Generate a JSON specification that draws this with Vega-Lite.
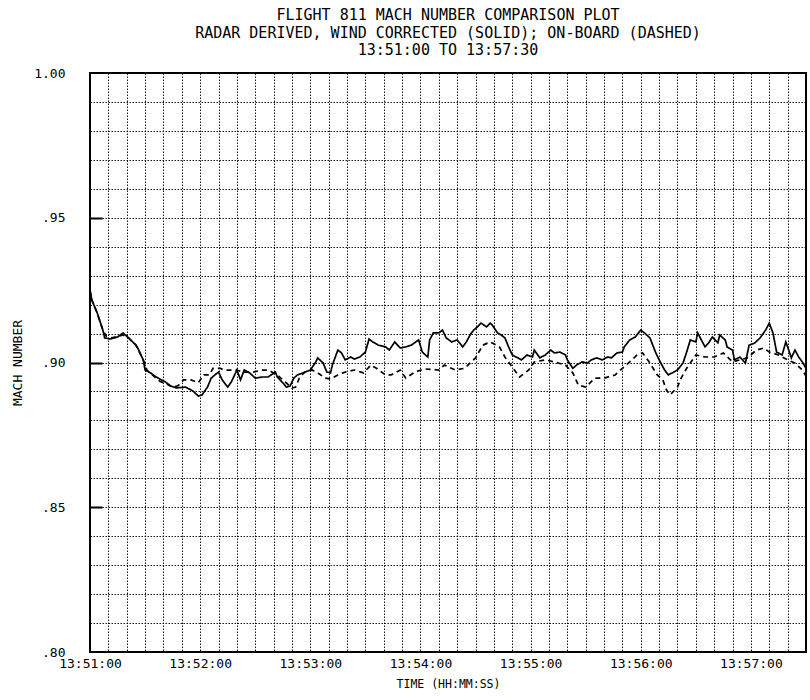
{
  "$schema": "https://vega.github.io/schema/vega-lite/v6.json",
  "width": 716,
  "height": 579,
  "autosize": {"type": "none"},
  "padding": {"left": 90, "top": 73, "right": 4, "bottom": 48},
  "background": "white",
  "config": {
    "font": "DejaVu Sans Mono",
    "view": {"stroke": "black", "strokeWidth": 2}
  },
  "title": {
    "text": ["FLIGHT 811 MACH NUMBER COMPARISON PLOT", "RADAR DERIVED, WIND CORRECTED (SOLID); ON-BOARD (DASHED)", "13:51:00 TO 13:57:30"],
    "font": "DejaVu Sans Mono",
    "fontSize": 15,
    "fontWeight": "normal",
    "lineHeight": 17.5,
    "color": "black",
    "frame": "group",
    "anchor": "middle",
    "offset": 9
  },
  "data": {
    "values": [
      {"sec": 0, "series": "Radar", "mach": 0.925},
      {"sec": 1, "series": "Radar", "mach": 0.9216},
      {"sec": 4, "series": "Radar", "mach": 0.917},
      {"sec": 7, "series": "Radar", "mach": 0.9112},
      {"sec": 8, "series": "Radar", "mach": 0.9085},
      {"sec": 11, "series": "Radar", "mach": 0.9081},
      {"sec": 15, "series": "Radar", "mach": 0.9088},
      {"sec": 18, "series": "Radar", "mach": 0.9102},
      {"sec": 21, "series": "Radar", "mach": 0.9085},
      {"sec": 25, "series": "Radar", "mach": 0.906},
      {"sec": 26, "series": "Radar", "mach": 0.905},
      {"sec": 29, "series": "Radar", "mach": 0.9009},
      {"sec": 30, "series": "Radar", "mach": 0.8974},
      {"sec": 33, "series": "Radar", "mach": 0.8964},
      {"sec": 36, "series": "Radar", "mach": 0.895},
      {"sec": 41, "series": "Radar", "mach": 0.8933},
      {"sec": 44, "series": "Radar", "mach": 0.8919},
      {"sec": 47, "series": "Radar", "mach": 0.8912},
      {"sec": 52, "series": "Radar", "mach": 0.8915},
      {"sec": 56, "series": "Radar", "mach": 0.8902},
      {"sec": 59, "series": "Radar", "mach": 0.8884},
      {"sec": 61, "series": "Radar", "mach": 0.8888},
      {"sec": 64, "series": "Radar", "mach": 0.8915},
      {"sec": 66, "series": "Radar", "mach": 0.8946},
      {"sec": 68, "series": "Radar", "mach": 0.8957},
      {"sec": 70, "series": "Radar", "mach": 0.8967},
      {"sec": 72, "series": "Radar", "mach": 0.894},
      {"sec": 75, "series": "Radar", "mach": 0.8915},
      {"sec": 77, "series": "Radar", "mach": 0.8933},
      {"sec": 80, "series": "Radar", "mach": 0.8974},
      {"sec": 82, "series": "Radar", "mach": 0.894},
      {"sec": 84, "series": "Radar", "mach": 0.8974},
      {"sec": 87, "series": "Radar", "mach": 0.8964},
      {"sec": 90, "series": "Radar", "mach": 0.8946},
      {"sec": 94, "series": "Radar", "mach": 0.895},
      {"sec": 97, "series": "Radar", "mach": 0.895},
      {"sec": 101, "series": "Radar", "mach": 0.8967},
      {"sec": 102, "series": "Radar", "mach": 0.895},
      {"sec": 105, "series": "Radar", "mach": 0.893},
      {"sec": 107, "series": "Radar", "mach": 0.8915},
      {"sec": 109, "series": "Radar", "mach": 0.8919},
      {"sec": 111, "series": "Radar", "mach": 0.8946},
      {"sec": 113, "series": "Radar", "mach": 0.8957},
      {"sec": 116, "series": "Radar", "mach": 0.8964},
      {"sec": 120, "series": "Radar", "mach": 0.8974},
      {"sec": 123, "series": "Radar", "mach": 0.9002},
      {"sec": 124, "series": "Radar", "mach": 0.9016},
      {"sec": 127, "series": "Radar", "mach": 0.8998},
      {"sec": 129, "series": "Radar", "mach": 0.8967},
      {"sec": 131, "series": "Radar", "mach": 0.8964},
      {"sec": 132, "series": "Radar", "mach": 0.8991},
      {"sec": 135, "series": "Radar", "mach": 0.9043},
      {"sec": 137, "series": "Radar", "mach": 0.9033},
      {"sec": 139, "series": "Radar", "mach": 0.9009},
      {"sec": 142, "series": "Radar", "mach": 0.9019},
      {"sec": 144, "series": "Radar", "mach": 0.9012},
      {"sec": 147, "series": "Radar", "mach": 0.9019},
      {"sec": 150, "series": "Radar", "mach": 0.9036},
      {"sec": 152, "series": "Radar", "mach": 0.9081},
      {"sec": 154, "series": "Radar", "mach": 0.9071},
      {"sec": 157, "series": "Radar", "mach": 0.906},
      {"sec": 161, "series": "Radar", "mach": 0.9054},
      {"sec": 163, "series": "Radar", "mach": 0.9043},
      {"sec": 166, "series": "Radar", "mach": 0.9071},
      {"sec": 169, "series": "Radar", "mach": 0.905},
      {"sec": 172, "series": "Radar", "mach": 0.9054},
      {"sec": 175, "series": "Radar", "mach": 0.906},
      {"sec": 179, "series": "Radar", "mach": 0.9078},
      {"sec": 181, "series": "Radar", "mach": 0.9036},
      {"sec": 184, "series": "Radar", "mach": 0.9019},
      {"sec": 185, "series": "Radar", "mach": 0.9078},
      {"sec": 187, "series": "Radar", "mach": 0.9102},
      {"sec": 190, "series": "Radar", "mach": 0.9102},
      {"sec": 192, "series": "Radar", "mach": 0.9112},
      {"sec": 194, "series": "Radar", "mach": 0.9085},
      {"sec": 197, "series": "Radar", "mach": 0.9071},
      {"sec": 200, "series": "Radar", "mach": 0.9078},
      {"sec": 203, "series": "Radar", "mach": 0.9054},
      {"sec": 205, "series": "Radar", "mach": 0.9071},
      {"sec": 207, "series": "Radar", "mach": 0.9095},
      {"sec": 209, "series": "Radar", "mach": 0.9112},
      {"sec": 211, "series": "Radar", "mach": 0.9123},
      {"sec": 213, "series": "Radar", "mach": 0.9136},
      {"sec": 216, "series": "Radar", "mach": 0.9123},
      {"sec": 218, "series": "Radar", "mach": 0.9136},
      {"sec": 219, "series": "Radar", "mach": 0.913},
      {"sec": 222, "series": "Radar", "mach": 0.9102},
      {"sec": 224, "series": "Radar", "mach": 0.9095},
      {"sec": 226, "series": "Radar", "mach": 0.9085},
      {"sec": 228, "series": "Radar", "mach": 0.9054},
      {"sec": 230, "series": "Radar", "mach": 0.9026},
      {"sec": 233, "series": "Radar", "mach": 0.9016},
      {"sec": 235, "series": "Radar", "mach": 0.9009},
      {"sec": 238, "series": "Radar", "mach": 0.9026},
      {"sec": 241, "series": "Radar", "mach": 0.9019},
      {"sec": 242, "series": "Radar", "mach": 0.9043},
      {"sec": 245, "series": "Radar", "mach": 0.9016},
      {"sec": 248, "series": "Radar", "mach": 0.9026},
      {"sec": 251, "series": "Radar", "mach": 0.9043},
      {"sec": 253, "series": "Radar", "mach": 0.9033},
      {"sec": 256, "series": "Radar", "mach": 0.9036},
      {"sec": 259, "series": "Radar", "mach": 0.9026},
      {"sec": 260, "series": "Radar", "mach": 0.9009},
      {"sec": 263, "series": "Radar", "mach": 0.898},
      {"sec": 265, "series": "Radar", "mach": 0.8991},
      {"sec": 268, "series": "Radar", "mach": 0.9002},
      {"sec": 271, "series": "Radar", "mach": 0.8998},
      {"sec": 273, "series": "Radar", "mach": 0.9009},
      {"sec": 276, "series": "Radar", "mach": 0.9016},
      {"sec": 279, "series": "Radar", "mach": 0.9009},
      {"sec": 282, "series": "Radar", "mach": 0.9019},
      {"sec": 284, "series": "Radar", "mach": 0.9016},
      {"sec": 287, "series": "Radar", "mach": 0.9033},
      {"sec": 290, "series": "Radar", "mach": 0.9036},
      {"sec": 291, "series": "Radar", "mach": 0.9054},
      {"sec": 294, "series": "Radar", "mach": 0.9078},
      {"sec": 297, "series": "Radar", "mach": 0.9088},
      {"sec": 300, "series": "Radar", "mach": 0.9112},
      {"sec": 302, "series": "Radar", "mach": 0.9102},
      {"sec": 305, "series": "Radar", "mach": 0.9085},
      {"sec": 308, "series": "Radar", "mach": 0.9036},
      {"sec": 310, "series": "Radar", "mach": 0.9009},
      {"sec": 313, "series": "Radar", "mach": 0.8974},
      {"sec": 315, "series": "Radar", "mach": 0.8957},
      {"sec": 318, "series": "Radar", "mach": 0.8967},
      {"sec": 320, "series": "Radar", "mach": 0.8974},
      {"sec": 323, "series": "Radar", "mach": 0.8998},
      {"sec": 325, "series": "Radar", "mach": 0.9036},
      {"sec": 327, "series": "Radar", "mach": 0.9078},
      {"sec": 330, "series": "Radar", "mach": 0.9071},
      {"sec": 331, "series": "Radar", "mach": 0.9102},
      {"sec": 333, "series": "Radar", "mach": 0.9078},
      {"sec": 335, "series": "Radar", "mach": 0.9054},
      {"sec": 337, "series": "Radar", "mach": 0.9068},
      {"sec": 339, "series": "Radar", "mach": 0.9088},
      {"sec": 342, "series": "Radar", "mach": 0.9068},
      {"sec": 343, "series": "Radar", "mach": 0.9095},
      {"sec": 346, "series": "Radar", "mach": 0.9078},
      {"sec": 347, "series": "Radar", "mach": 0.9054},
      {"sec": 350, "series": "Radar", "mach": 0.9043},
      {"sec": 351, "series": "Radar", "mach": 0.9009},
      {"sec": 354, "series": "Radar", "mach": 0.9019},
      {"sec": 357, "series": "Radar", "mach": 0.8998},
      {"sec": 359, "series": "Radar", "mach": 0.906},
      {"sec": 362, "series": "Radar", "mach": 0.9067},
      {"sec": 365, "series": "Radar", "mach": 0.9085},
      {"sec": 368, "series": "Radar", "mach": 0.9112},
      {"sec": 370, "series": "Radar", "mach": 0.9136},
      {"sec": 372, "series": "Radar", "mach": 0.9102},
      {"sec": 374, "series": "Radar", "mach": 0.9036},
      {"sec": 377, "series": "Radar", "mach": 0.9026},
      {"sec": 379, "series": "Radar", "mach": 0.9071},
      {"sec": 380, "series": "Radar", "mach": 0.9054},
      {"sec": 382, "series": "Radar", "mach": 0.9016},
      {"sec": 384, "series": "Radar", "mach": 0.9043},
      {"sec": 386, "series": "Radar", "mach": 0.9019},
      {"sec": 388, "series": "Radar", "mach": 0.9002},
      {"sec": 390, "series": "Radar", "mach": 0.898},
      {"sec": 0, "series": "On-board", "mach": 0.925},
      {"sec": 1, "series": "On-board", "mach": 0.9216},
      {"sec": 4, "series": "On-board", "mach": 0.917},
      {"sec": 7, "series": "On-board", "mach": 0.9112},
      {"sec": 9, "series": "On-board", "mach": 0.909},
      {"sec": 12, "series": "On-board", "mach": 0.9085},
      {"sec": 15, "series": "On-board", "mach": 0.909},
      {"sec": 18, "series": "On-board", "mach": 0.9095},
      {"sec": 21, "series": "On-board", "mach": 0.9085},
      {"sec": 25, "series": "On-board", "mach": 0.906},
      {"sec": 29, "series": "On-board", "mach": 0.9009},
      {"sec": 31, "series": "On-board", "mach": 0.8974},
      {"sec": 34, "series": "On-board", "mach": 0.8957},
      {"sec": 38, "series": "On-board", "mach": 0.8935},
      {"sec": 42, "series": "On-board", "mach": 0.8925},
      {"sec": 45, "series": "On-board", "mach": 0.8915},
      {"sec": 48, "series": "On-board", "mach": 0.892},
      {"sec": 51, "series": "On-board", "mach": 0.894},
      {"sec": 55, "series": "On-board", "mach": 0.894},
      {"sec": 59, "series": "On-board", "mach": 0.893},
      {"sec": 62, "series": "On-board", "mach": 0.8957},
      {"sec": 65, "series": "On-board", "mach": 0.8957},
      {"sec": 67, "series": "On-board", "mach": 0.898},
      {"sec": 71, "series": "On-board", "mach": 0.898},
      {"sec": 73, "series": "On-board", "mach": 0.8974},
      {"sec": 80, "series": "On-board", "mach": 0.8974},
      {"sec": 83, "series": "On-board", "mach": 0.8967},
      {"sec": 89, "series": "On-board", "mach": 0.8967},
      {"sec": 94, "series": "On-board", "mach": 0.8974},
      {"sec": 97, "series": "On-board", "mach": 0.8974},
      {"sec": 102, "series": "On-board", "mach": 0.8957},
      {"sec": 106, "series": "On-board", "mach": 0.8935},
      {"sec": 110, "series": "On-board", "mach": 0.8912},
      {"sec": 112, "series": "On-board", "mach": 0.8915},
      {"sec": 114, "series": "On-board", "mach": 0.8946},
      {"sec": 117, "series": "On-board", "mach": 0.8967},
      {"sec": 121, "series": "On-board", "mach": 0.8974},
      {"sec": 125, "series": "On-board", "mach": 0.896},
      {"sec": 128, "series": "On-board", "mach": 0.8946},
      {"sec": 131, "series": "On-board", "mach": 0.8943},
      {"sec": 135, "series": "On-board", "mach": 0.8957},
      {"sec": 139, "series": "On-board", "mach": 0.8967},
      {"sec": 144, "series": "On-board", "mach": 0.8974},
      {"sec": 149, "series": "On-board", "mach": 0.8964},
      {"sec": 153, "series": "On-board", "mach": 0.8991},
      {"sec": 156, "series": "On-board", "mach": 0.898},
      {"sec": 161, "series": "On-board", "mach": 0.8957},
      {"sec": 164, "series": "On-board", "mach": 0.8957},
      {"sec": 169, "series": "On-board", "mach": 0.8974},
      {"sec": 172, "series": "On-board", "mach": 0.8946},
      {"sec": 177, "series": "On-board", "mach": 0.8967},
      {"sec": 182, "series": "On-board", "mach": 0.8978},
      {"sec": 190, "series": "On-board", "mach": 0.8974},
      {"sec": 193, "series": "On-board", "mach": 0.8991},
      {"sec": 199, "series": "On-board", "mach": 0.8974},
      {"sec": 204, "series": "On-board", "mach": 0.898},
      {"sec": 210, "series": "On-board", "mach": 0.9016},
      {"sec": 214, "series": "On-board", "mach": 0.906},
      {"sec": 218, "series": "On-board", "mach": 0.9071},
      {"sec": 223, "series": "On-board", "mach": 0.9054},
      {"sec": 226, "series": "On-board", "mach": 0.9019},
      {"sec": 230, "series": "On-board", "mach": 0.8984},
      {"sec": 234, "series": "On-board", "mach": 0.895},
      {"sec": 239, "series": "On-board", "mach": 0.8974},
      {"sec": 242, "series": "On-board", "mach": 0.9002},
      {"sec": 248, "series": "On-board", "mach": 0.9009},
      {"sec": 253, "series": "On-board", "mach": 0.9002},
      {"sec": 259, "series": "On-board", "mach": 0.8991},
      {"sec": 263, "series": "On-board", "mach": 0.8964},
      {"sec": 266, "series": "On-board", "mach": 0.8922},
      {"sec": 270, "series": "On-board", "mach": 0.8915},
      {"sec": 275, "series": "On-board", "mach": 0.8946},
      {"sec": 280, "series": "On-board", "mach": 0.8946},
      {"sec": 286, "series": "On-board", "mach": 0.8957},
      {"sec": 290, "series": "On-board", "mach": 0.898},
      {"sec": 294, "series": "On-board", "mach": 0.9002},
      {"sec": 298, "series": "On-board", "mach": 0.9026},
      {"sec": 301, "series": "On-board", "mach": 0.9033},
      {"sec": 305, "series": "On-board", "mach": 0.8998},
      {"sec": 309, "series": "On-board", "mach": 0.8957},
      {"sec": 312, "series": "On-board", "mach": 0.894},
      {"sec": 314, "series": "On-board", "mach": 0.8905},
      {"sec": 316, "series": "On-board", "mach": 0.8888},
      {"sec": 320, "series": "On-board", "mach": 0.8915},
      {"sec": 322, "series": "On-board", "mach": 0.8946},
      {"sec": 325, "series": "On-board", "mach": 0.898},
      {"sec": 330, "series": "On-board", "mach": 0.9026},
      {"sec": 335, "series": "On-board", "mach": 0.9019},
      {"sec": 340, "series": "On-board", "mach": 0.9019},
      {"sec": 345, "series": "On-board", "mach": 0.9033},
      {"sec": 350, "series": "On-board", "mach": 0.9002},
      {"sec": 354, "series": "On-board", "mach": 0.9009},
      {"sec": 358, "series": "On-board", "mach": 0.9016},
      {"sec": 363, "series": "On-board", "mach": 0.9043},
      {"sec": 367, "series": "On-board", "mach": 0.905},
      {"sec": 370, "series": "On-board", "mach": 0.9036},
      {"sec": 375, "series": "On-board", "mach": 0.9026},
      {"sec": 380, "series": "On-board", "mach": 0.9009},
      {"sec": 384, "series": "On-board", "mach": 0.8998},
      {"sec": 388, "series": "On-board", "mach": 0.8974},
      {"sec": 390, "series": "On-board", "mach": 0.8953}
    ]
  },
  "layer": [
    {
      "mark": {"type": "line", "color": "black", "strokeWidth": 1.7, "clip": true},
      "encoding": {
        "x": {
          "field": "sec",
          "type": "quantitative",
          "scale": {"domain": [0, 390], "nice": false, "zero": false},
          "axis": {
            "title": "TIME (HH:MM:SS)",
            "titleFont": "DejaVu Sans Mono",
            "titleFontSize": 11.5,
            "titleFontWeight": "normal",
            "titleColor": "black",
            "titlePadding": 8,
            "values": [0, 10, 20, 30, 40, 50, 60, 70, 80, 90, 100, 110, 120, 130, 140, 150, 160, 170, 180, 190, 200, 210, 220, 230, 240, 250, 260, 270, 280, 290, 300, 310, 320, 330, 340, 350, 360, 370, 380, 390],
            "labelExpr": "datum.value % 60 == 0 ? '13:' + (51 + datum.value / 60) + ':00' : ''",
            "labelFont": "DejaVu Sans Mono",
            "labelFontSize": 13,
            "labelColor": "black",
            "labelOverlap": false,
            "labelFlush": false,
            "labelBound": false,
            "labelPadding": 5,
            "ticks": false,
            "domain": false,
            "grid": true,
            "gridColor": "black",
            "gridDash": [1.5, 1.5],
            "gridWidth": 1,
            "gridOpacity": 0.9
          }
        },
        "y": {
          "field": "mach",
          "type": "quantitative",
          "scale": {"domain": [0.8, 1.0], "nice": false, "zero": false},
          "axis": {
            "title": "MACH NUMBER",
            "titleFont": "DejaVu Sans Mono",
            "titleFontSize": 13,
            "titleFontWeight": "normal",
            "titleColor": "black",
            "titlePadding": 9,
            "values": [0.8, 0.81, 0.82, 0.83, 0.84, 0.85, 0.86, 0.87, 0.88, 0.89, 0.9, 0.91, 0.92, 0.93, 0.94, 0.95, 0.96, 0.97, 0.98, 0.99, 1.0],
            "labelExpr": "round(datum.value * 100) % 5 == 0 ? (datum.value > 0.995 ? '1.00' : '.' + round(datum.value * 100)) : ''",
            "labelFont": "DejaVu Sans Mono",
            "labelFontSize": 13,
            "labelColor": "black",
            "labelOverlap": false,
            "labelFlush": false,
            "labelPadding": 25,
            "ticks": false,
            "domain": false,
            "grid": true,
            "gridColor": "black",
            "gridDash": [1.5, 1.5],
            "gridWidth": 1,
            "gridOpacity": 0.9
          }
        },
        "strokeDash": {
          "field": "series",
          "type": "nominal",
          "scale": {"domain": ["Radar", "On-board"], "range": [[1, 0], [5, 4]]},
          "legend": null
        }
      }
    },
    {
      "mark": {"type": "line", "opacity": 0},
      "encoding": {
        "x": {
          "field": "sec",
          "type": "quantitative",
          "scale": {"domain": [0, 390], "nice": false, "zero": false},
          "axis": {
            "title": "TIME (HH:MM:SS)",
            "titleFont": "DejaVu Sans Mono",
            "titleFontSize": 11.5,
            "titleFontWeight": "normal",
            "titleColor": "black",
            "titlePadding": 8,
            "values": [0, 10, 20, 30, 40, 50, 60, 70, 80, 90, 100, 110, 120, 130, 140, 150, 160, 170, 180, 190, 200, 210, 220, 230, 240, 250, 260, 270, 280, 290, 300, 310, 320, 330, 340, 350, 360, 370, 380, 390],
            "labelExpr": "datum.value % 60 == 0 ? '13:' + (51 + datum.value / 60) + ':00' : ''",
            "labelFont": "DejaVu Sans Mono",
            "labelFontSize": 13,
            "labelColor": "black",
            "labelOverlap": false,
            "labelFlush": false,
            "labelBound": false,
            "labelPadding": 5,
            "ticks": false,
            "domain": false,
            "grid": true,
            "gridColor": "black",
            "gridDash": [1.5, 1.5],
            "gridWidth": 1,
            "gridOpacity": 0.9
          }
        },
        "y": {
          "field": "mach",
          "type": "quantitative",
          "axis": {
            "orient": "left",
            "values": [0.85, 0.9, 0.95],
            "labels": false,
            "ticks": false,
            "domain": false,
            "title": null,
            "grid": true,
            "gridColor": "black",
            "gridWidth": 2,
            "gridDash": [12, 2000],
            "gridOpacity": 1
          }
        },
        "detail": {"field": "series", "type": "nominal"}
      }
    }
  ],
  "resolve": {"axis": {"y": "independent"}}
}
